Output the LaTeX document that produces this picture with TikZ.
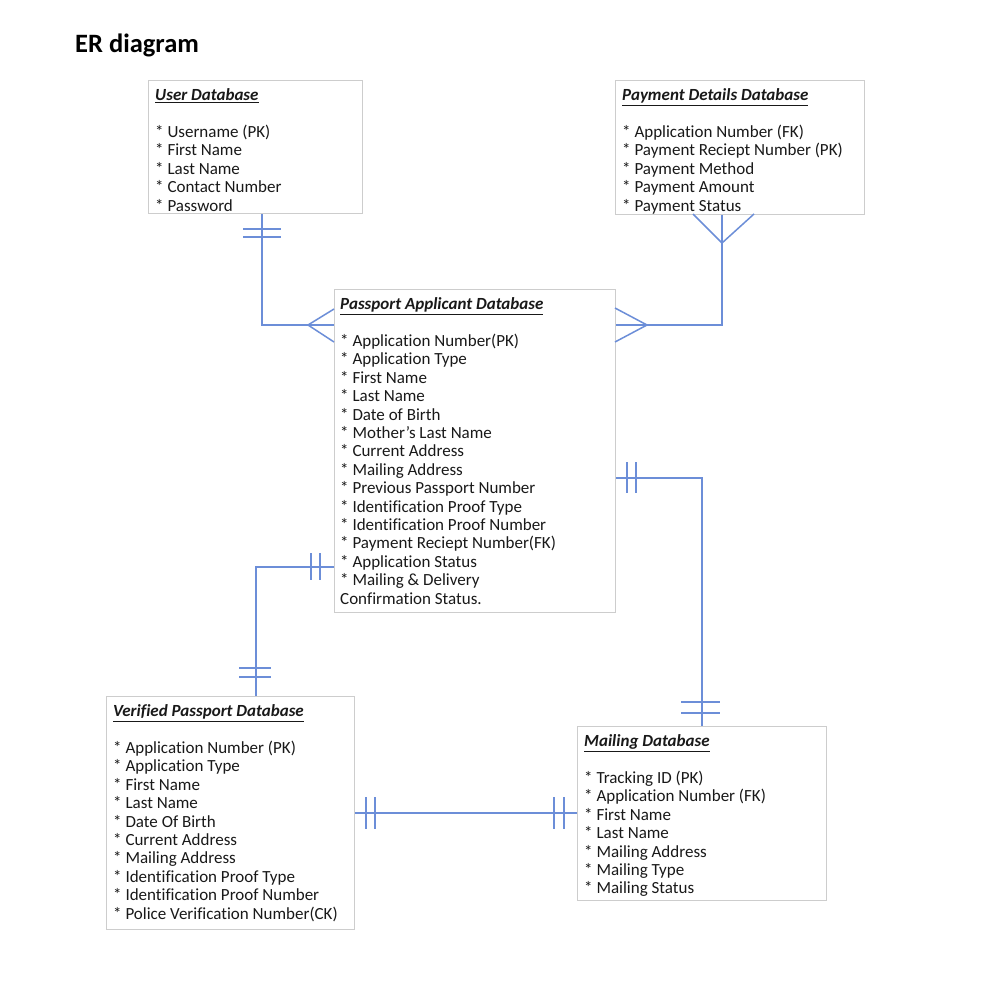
\documentclass[tikz,border=0pt]{standalone}
\usepackage{fontspec}
\setmainfont[Ligatures=NoCommon]{Carlito}
\definecolor{boxgray}{RGB}{205,205,205}
\definecolor{relblue}{RGB}{108,142,216}
\tikzset{
  dbbox/.style={draw=boxgray, line width=1.2pt, inner sep=0pt, anchor=north west, fill=white},
  dbtext/.style={anchor=north west, inner sep=0pt, align=left, font=\fontsize{17}{18.4}\selectfont, text=black!90},
  rel/.style={draw=relblue, line width=1.5pt},
  bar/.style={draw=relblue, line width=1.5pt}
}
\newcommand{\dbtitle}[1]{\underline{\textbf{\textit{#1}}}}
\begin{document}
\begin{tikzpicture}[x=1pt,y=-1pt]
\useasboundingbox[fill=white] (0,0) rectangle (1000,1000);
\node[anchor=base west, inner sep=0pt, font=\fontsize{26.5}{30}\bfseries\selectfont] (title) at (75,53) {ER diagram};

% boxes
\node[dbbox, minimum width=214pt, minimum height=133pt] (user) at (148,80) {};
\node[dbbox, minimum width=249pt, minimum height=134pt] (pay) at (615,80) {};
\node[dbbox, minimum width=281pt, minimum height=323pt] (pass) at (334,289) {};
\node[dbbox, minimum width=248pt, minimum height=233pt] (ver) at (106,696) {};
\node[dbbox, minimum width=249pt, minimum height=174pt] (mail) at (577,726) {};

% texts
\node[dbtext] (userT) at (155,88.5) {\dbtitle{User Database}\\[18.4pt]
* Username (PK)\\* First Name\\* Last Name\\* Contact Number\\* Password};
\node[dbtext] (payT) at (622,88.5) {\dbtitle{Payment Details Database}\\[18.4pt]
* Application Number (FK)\\* Payment Reciept Number (PK)\\* Payment Method\\* Payment Amount\\* Payment Status};
\node[dbtext] (passT) at (340,297.5) {\dbtitle{Passport Applicant Database}\\[18.4pt]
* Application Number(PK)\\* Application Type\\* First Name\\* Last Name\\* Date of Birth\\* Mother's Last Name\\* Current Address\\* Mailing Address\\* Previous Passport Number\\* Identification Proof Type\\* Identification Proof Number\\* Payment Reciept Number(FK)\\* Application Status\\* Mailing \& Delivery\\Confirmation Status.};
\node[dbtext] (verT) at (113,704.5) {\dbtitle{Verified Passport Database}\\[18.4pt]
* Application Number (PK)\\* Application Type\\* First Name\\* Last Name\\* Date Of Birth\\* Current Address\\* Mailing Address\\* Identification Proof Type\\* Identification Proof Number\\* Police Verification Number(CK)};
\node[dbtext] (mailT) at (584,734.5) {\dbtitle{Mailing Database}\\[18.4pt]
* Tracking ID (PK)\\* Application Number (FK)\\* First Name\\* Last Name\\* Mailing Address\\* Mailing Type\\* Mailing Status};

% connectors
\draw[rel] (user.south -| 262,0) |- (pass.west |- 0,325);
\draw[bar] (243,229) -- (281,229) (243,237) -- (281,237);
\draw[bar] (334,309) -- (308,325) -- (334,342);

\draw[rel] (pay.south -| 722,0) |- (pass.east |- 0,325);
\draw[bar] (693,214) -- (722,243) -- (754,214);
\draw[bar] (615,308) -- (647,325) -- (615,342);

\draw[rel] (pass.west |- 0,567) -| (ver.north -| 256,0);
\draw[bar] (311,553) -- (311,580) (320,553) -- (320,580);
\draw[bar] (239,668) -- (271,668) (239,677) -- (271,677);

\draw[rel] (pass.east |- 0,478) -| (mail.north -| 702,0);
\draw[bar] (627,462) -- (627,493) (636,462) -- (636,493);
\draw[bar] (681,702) -- (720,702) (681,713) -- (720,713);

\draw[rel] (ver.east |- 0,813) -- (mail.west |- 0,813);
\draw[bar] (366,797) -- (366,829) (375,797) -- (375,829);
\draw[bar] (554,797) -- (554,829) (564,797) -- (564,829);
\end{tikzpicture}
\end{document}
